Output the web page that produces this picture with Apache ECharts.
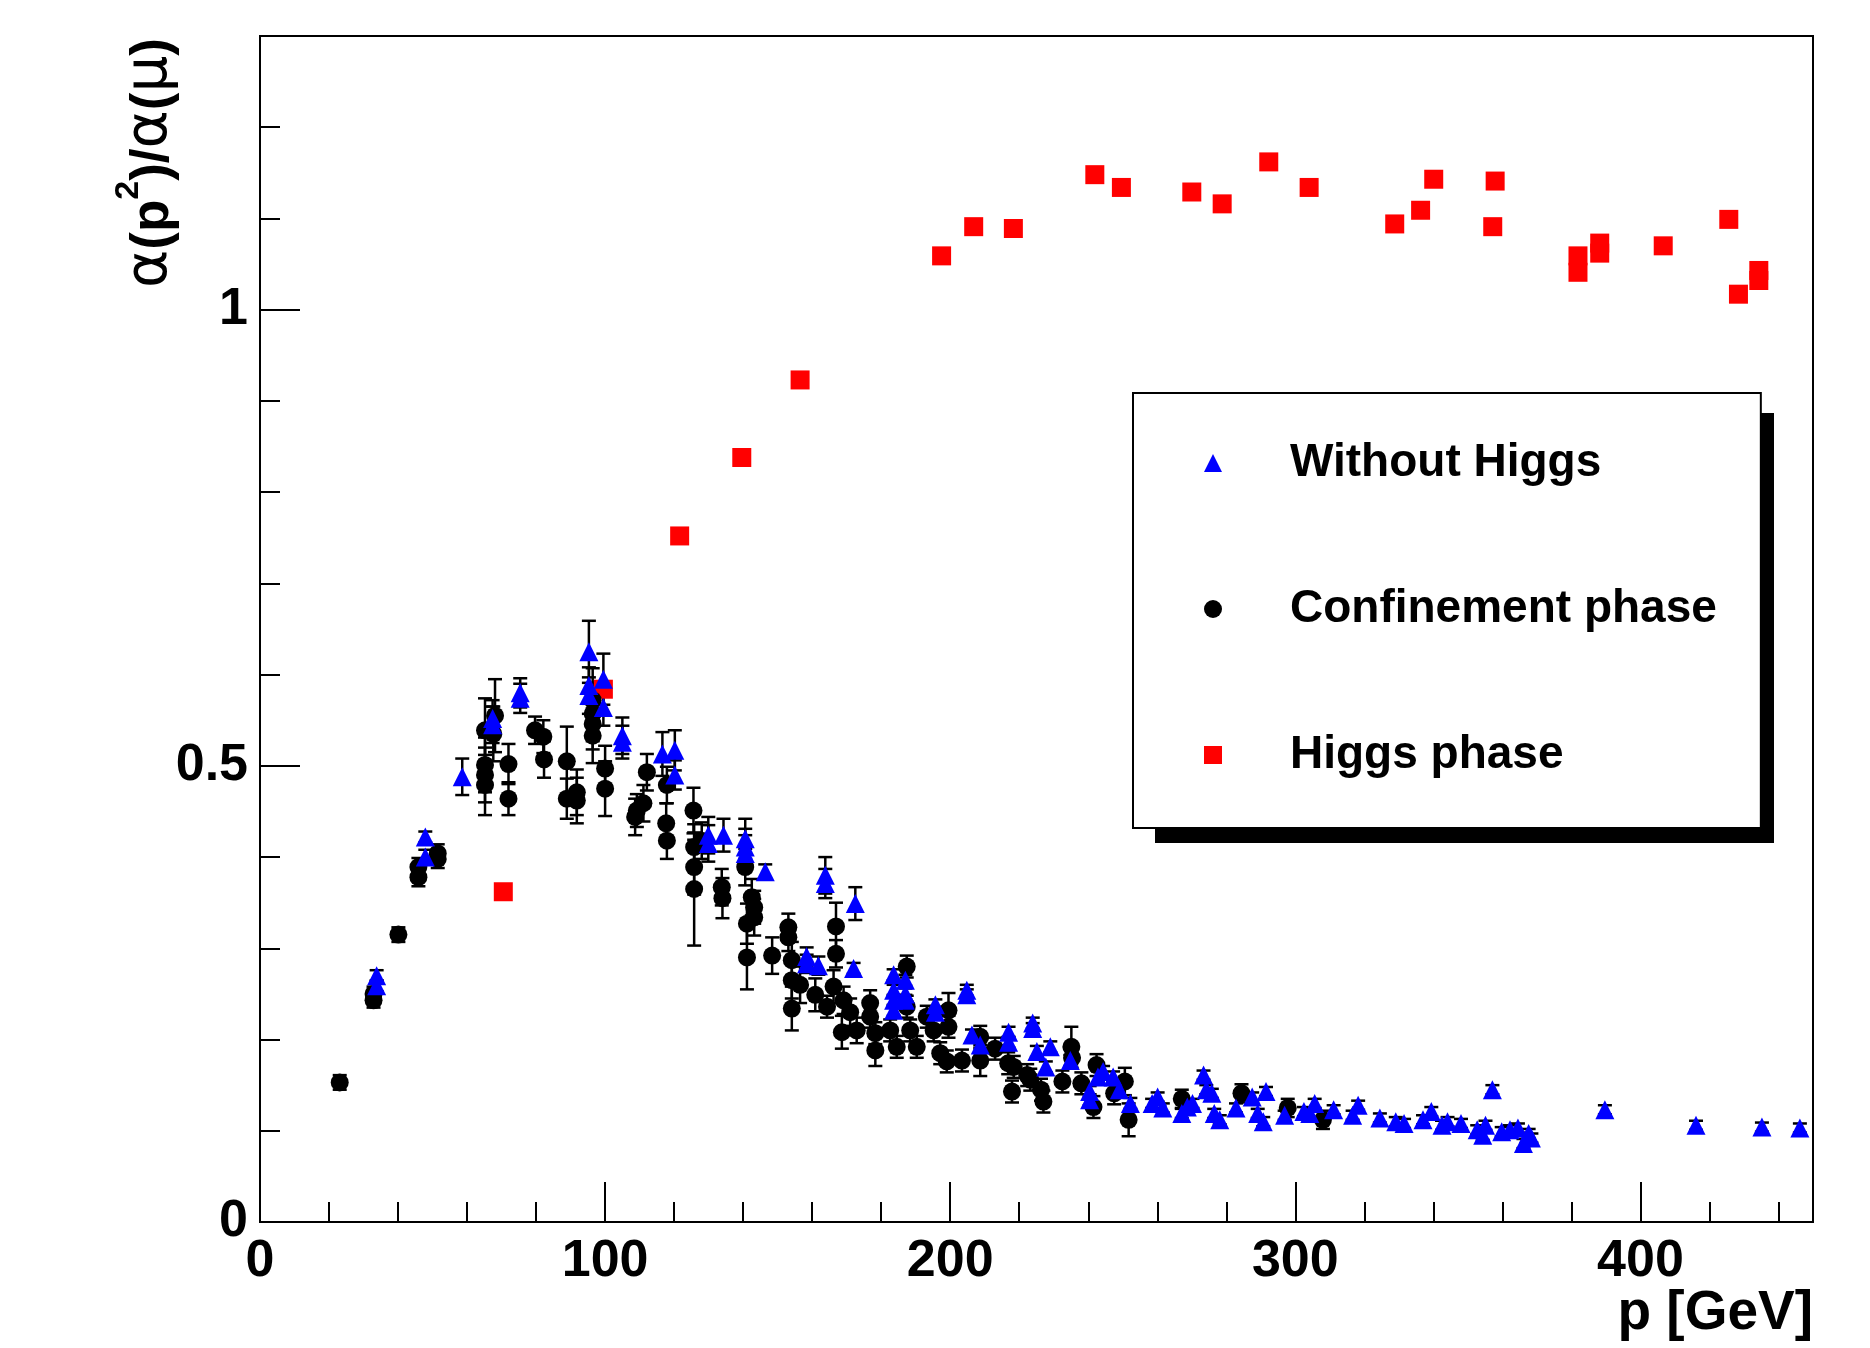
<!DOCTYPE html>
<html>
<head>
<meta charset="utf-8">
<script src="https://cdn.jsdelivr.net/npm/echarts@6/dist/echarts.min.js"></script>
<style>
html,body{margin:0;padding:0;background:#fff;}
#chart{width:1870px;height:1348px;}
</style>
</head>
<body>
<div id="chart"></div>
<script>
// ---- data: [p (GeV), alpha ratio, error] ----
const confinementPhase = [
  [23.1,0.153,0.008],[32.9,0.250,0.008],[32.9,0.243,0.008],[40.1,0.315,0.008],
  [45.9,0.389,0.010],[45.9,0.378,0.010],[51.5,0.404,0.010],[51.5,0.398,0.010],
  [65.2,0.539,0.035],[68.1,0.555,0.040],[67.6,0.535,0.030],[65.2,0.501,0.030],
  [65.2,0.490,0.030],[65.2,0.479,0.033],[72.0,0.502,0.022],[72.0,0.464,0.018],
  [79.7,0.539,0.015],[82.1,0.532,0.018],[82.3,0.507,0.020],[88.9,0.505,0.038],
  [88.9,0.464,0.022],[91.8,0.471,0.025],[91.8,0.462,0.025],[96.4,0.572,0.035],
  [96.4,0.557,0.030],[96.4,0.546,0.028],[96.4,0.533,0.030],[100.0,0.497,0.025],
  [100.0,0.475,0.030],[112.1,0.493,0.020],[111.1,0.459,0.020],[108.7,0.444,0.020],
  [109.2,0.451,0.018],[117.9,0.479,0.020],[117.7,0.437,0.022],[117.9,0.418,0.020],
  [125.6,0.451,0.025],[125.8,0.411,0.025],[125.8,0.389,0.030],[125.8,0.365,0.062],
  [128.0,0.418,0.020],[133.8,0.367,0.020],[134.0,0.355,0.022],[140.6,0.389,0.020],
  [141.1,0.327,0.022],[142.5,0.356,0.020],[143.2,0.345,0.018],[143.2,0.334,0.020],
  [141.1,0.290,0.035],[148.4,0.292,0.020],[153.1,0.323,0.015],[153.1,0.312,0.015],
  [154.1,0.287,0.020],[154.1,0.265,0.020],[154.1,0.234,0.024],[156.5,0.260,0.020],
  [160.9,0.249,0.018],[164.3,0.236,0.012],[166.2,0.258,0.018],[166.9,0.324,0.026],
  [166.9,0.294,0.015],[169.1,0.243,0.015],[171.0,0.230,0.015],[168.6,0.208,0.018],
  [172.9,0.210,0.014],[176.8,0.240,0.014],[176.8,0.225,0.012],[178.3,0.207,0.012],
  [178.3,0.188,0.017],[182.6,0.210,0.012],[184.5,0.192,0.012],[187.4,0.280,0.012],
  [187.4,0.236,0.012],[188.4,0.210,0.012],[190.3,0.192,0.012],[193.2,0.225,0.012],
  [195.2,0.210,0.012],[197.1,0.185,0.012],[199.0,0.176,0.012],[199.5,0.232,0.019],
  [199.5,0.214,0.012],[203.4,0.177,0.012],[208.7,0.203,0.012],[208.7,0.177,0.017],
  [213.0,0.190,0.012],[217.9,0.143,0.012],[218.4,0.170,0.012],[216.8,0.174,0.012],
  [222.3,0.161,0.012],[223.2,0.156,0.012],[226.3,0.145,0.012],[227.0,0.132,0.012],
  [232.5,0.154,0.012],[235.1,0.192,0.022],[235.3,0.180,0.012],[238.0,0.152,0.012],
  [242.4,0.172,0.012],[241.5,0.126,0.012],[247.5,0.141,0.012],[250.6,0.154,0.015],
  [251.7,0.112,0.018],[267.1,0.135,0.010],[284.4,0.141,0.010],[297.8,0.125,0.010],
  [308.0,0.112,0.010]
];

const withoutHiggs = [
  [33.8,0.270,0.006],[33.8,0.259,0.006],[47.9,0.422,0.006],[47.9,0.400,0.008],
  [58.6,0.488,0.020],[67.4,0.552,0.020],[67.4,0.545,0.020],[75.4,0.580,0.016],
  [75.4,0.574,0.016],[95.3,0.625,0.034],[95.3,0.588,0.020],[95.3,0.577,0.020],
  [99.5,0.595,0.028],[99.5,0.564,0.020],[105.0,0.533,0.020],[105.0,0.526,0.018],
  [116.6,0.513,0.024],[120.2,0.517,0.022],[120.2,0.490,0.016],[129.9,0.424,0.020],
  [129.9,0.415,0.020],[134.3,0.424,0.018],[140.6,0.420,0.022],[140.6,0.411,0.020],
  [140.6,0.404,0.020],[146.4,0.384,0.008],[163.8,0.380,0.020],[163.8,0.371,0.016],
  [172.5,0.349,0.018],[158.4,0.291,0.010],[158.4,0.283,0.010],[161.8,0.281,0.010],
  [172.0,0.278,0.006],[183.6,0.271,0.006],[183.6,0.254,0.006],[183.6,0.243,0.006],
  [183.6,0.232,0.006],[187.0,0.265,0.006],[187.0,0.250,0.006],[187.0,0.243,0.006],
  [195.7,0.238,0.006],[195.7,0.230,0.006],[204.8,0.254,0.006],[204.8,0.249,0.006],
  [206.3,0.205,0.006],[208.7,0.194,0.006],[216.9,0.208,0.006],[216.9,0.197,0.006],
  [223.9,0.218,0.006],[223.9,0.212,0.006],[225.1,0.187,0.006],[229.0,0.192,0.006],
  [227.7,0.170,0.006],[234.8,0.177,0.006],[240.4,0.143,0.006],[240.4,0.134,0.006],
  [242.8,0.159,0.006],[244.3,0.165,0.006],[247.2,0.159,0.006],[249.0,0.145,0.006],
  [252.2,0.130,0.006],[258.5,0.130,0.005],[260.1,0.137,0.005],[261.6,0.125,0.005],
  [267.1,0.119,0.005],[268.7,0.126,0.005],[270.2,0.130,0.005],[273.4,0.161,0.005],
  [274.2,0.145,0.005],[275.8,0.141,0.005],[276.5,0.119,0.005],[278.1,0.112,0.005],
  [282.8,0.125,0.005],[287.5,0.137,0.005],[289.1,0.119,0.005],[290.7,0.110,0.005],
  [291.5,0.143,0.005],[296.9,0.117,0.005],[302.5,0.121,0.005],[305.6,0.130,0.005],
  [304.2,0.119,0.005],[311.1,0.123,0.005],[316.6,0.117,0.005],[318.2,0.128,0.005],
  [324.5,0.114,0.005],[329.1,0.110,0.005],[331.5,0.108,0.005],[337.0,0.112,0.005],
  [339.4,0.121,0.005],[342.5,0.106,0.005],[344.1,0.110,0.005],[348.0,0.108,0.005],
  [352.7,0.101,0.005],[354.3,0.095,0.005],[355.1,0.106,0.005],[357.1,0.145,0.005],
  [359.8,0.099,0.005],[362.2,0.101,0.005],[364.5,0.103,0.005],[366.1,0.086,0.005],
  [367.6,0.097,0.005],[368.4,0.092,0.005],[389.7,0.123,0.005],[416.1,0.106,0.005],
  [435.2,0.104,0.005],[446.2,0.103,0.005]
];

const higgsPhase = [
  [70.5,0.362],[99.5,0.584],[121.6,0.752],[139.6,0.838],[156.5,0.923],
  [197.5,1.059],[206.8,1.091],[218.3,1.089],[241.9,1.148],[249.6,1.134],
  [270.0,1.129],[278.8,1.116],[292.3,1.162],[304.0,1.134],[328.8,1.094],
  [336.3,1.109],[340.1,1.143],[357.9,1.141],[357.2,1.091],[381.9,1.059],
  [381.9,1.041],[388.2,1.073],[388.2,1.062],[406.6,1.070],[425.6,1.099],
  [428.4,1.017],[434.3,1.043],[434.3,1.032]
];

const seriesNames = ['Without Higgs', 'Confinement phase', 'Higgs phase'];
const xTickLabels = [0, 100, 200, 300, 400];
const yTickLabels = [0, 0.5, 1];

// ---- chart ----
const FONT = 'Liberation Sans';
const GREEK = 'DejaVu Sans';
const chart = echarts.init(document.getElementById('chart'), null, {renderer: 'canvas'});

function errorBars(points) {
  return points.map(p => [p[0], p[1] - p[2], p[1] + p[2]]);
}
function renderErr(params, api) {
  const x = api.value(0);
  const top = api.coord([x, api.value(2)]);
  const bot = api.coord([x, api.value(1)]);
  const w = 7;
  const st = {stroke: '#000', lineWidth: 2.5};
  return {
    type: 'group',
    children: [
      {type: 'line', shape: {x1: top[0], y1: top[1], x2: bot[0], y2: bot[1]}, style: st},
      {type: 'line', shape: {x1: top[0] - w, y1: top[1], x2: top[0] + w, y2: top[1]}, style: st},
      {type: 'line', shape: {x1: bot[0] - w, y1: bot[1], x2: bot[0] + w, y2: bot[1]}, style: st}
    ]
  };
}

const labelStyle = {fontFamily: FONT, fontWeight: 'bold', fontSize: 52, color: '#000'};

// legend drop shadow geometry (ROOT-style pave shadow)
const LEG_SHADOW = {x: 1155, y: 413, width: 619, height: 430};

const option = {
  animation: false,
  backgroundColor: '#fff',
  grid: {left: 260, top: 36, right: 57, bottom: 126, show: true, borderColor: '#000', borderWidth: 2,
    backgroundColor: 'transparent', containLabel: false, outerBoundsMode: 'none'},
  graphic: [{
    type: 'rect', z: 3, silent: true,
    shape: {x: LEG_SHADOW.x, y: LEG_SHADOW.y, width: LEG_SHADOW.width, height: LEG_SHADOW.height},
    style: {fill: '#000'}
  }],
  legend: {
    data: seriesNames,
    orient: 'vertical',
    left: 1133, top: 393,
    padding: [45, 44, 48, 71],
    itemGap: 96,
    itemWidth: 18, itemHeight: 18,
    backgroundColor: '#fff',
    borderColor: '#000', borderWidth: 2,
    z: 5,
    textStyle: {fontFamily: FONT, fontWeight: 'bold', fontSize: 46, color: '#000', lineHeight: 50, padding: [0, 0, 0, 63]}
  },
  xAxis: [
    {
      type: 'value', min: 0, max: 450, interval: 20, position: 'bottom',
      axisLine: {show: true, lineStyle: {color: '#000', width: 2}},
      axisTick: {show: true, inside: true, length: 20, lineStyle: {color: '#000', width: 2}},
      axisLabel: {show: false}, splitLine: {show: false}
    },
    {
      type: 'value', min: 0, max: 450, interval: 100, position: 'bottom',
      axisLine: {show: false},
      axisTick: {show: true, inside: true, length: 40, lineStyle: {color: '#000', width: 2}},
      axisLabel: Object.assign({margin: 14, showMaxLabel: false,
        formatter: v => (xTickLabels.indexOf(v) >= 0 ? String(v) : '')}, labelStyle),
      splitLine: {show: false},
      name: 'p [GeV]', nameLocation: 'end', nameGap: 0, nameMoveOverlap: false,
      nameTextStyle: {fontFamily: FONT, fontWeight: 'bold', fontSize: 55, color: '#000', align: 'right', verticalAlign: 'top', padding: [64, 0, 0, 0]}
    }
  ],
  yAxis: [
    {
      type: 'value', min: 0, max: 1.3, interval: 0.1, position: 'left',
      axisLine: {show: true, lineStyle: {color: '#000', width: 2}},
      axisTick: {show: true, inside: true, length: 20, lineStyle: {color: '#000', width: 2}},
      axisLabel: {show: false}, splitLine: {show: false}
    },
    {
      type: 'value', min: 0, max: 1.3, interval: 0.5, position: 'left',
      axisLine: {show: false},
      axisTick: {show: true, inside: true, length: 40, lineStyle: {color: '#000', width: 2}},
      axisLabel: Object.assign({margin: 12, showMaxLabel: false,
        formatter: v => (yTickLabels.indexOf(v) >= 0 ? String(v) : '')}, labelStyle),
      splitLine: {show: false},
      name: '{g|α}{b|(p}{s|2}{b|)/}{g|α}{b|(}{g|μ}{b|)}', nameLocation: 'end', nameGap: -2, nameRotate: 90,
      nameMoveOverlap: false,
      nameTextStyle: {
        fontFamily: FONT, fontSize: 53, color: '#000', align: 'right', verticalAlign: 'bottom',
        padding: [0, 0, 80, 0],
        rich: {
          g: {fontFamily: GREEK, fontSize: 58, fontWeight: 'normal', color: '#000', lineHeight: 68, verticalAlign: 'bottom'},
          b: {fontFamily: FONT, fontSize: 53, fontWeight: 'bold', color: '#000', lineHeight: 68, verticalAlign: 'bottom'},
          s: {fontFamily: FONT, fontSize: 34, fontWeight: 'bold', color: '#000', lineHeight: 34, verticalAlign: 'top'}
        }
      }
    }
  ],
  series: [
    {type: 'custom', name: 'errConf', xAxisIndex: 0, yAxisIndex: 0, renderItem: renderErr,
      encode: {x: 0, y: [1, 2]}, data: errorBars(confinementPhase), silent: true},
    {type: 'custom', name: 'errNoHiggs', xAxisIndex: 0, yAxisIndex: 0, renderItem: renderErr,
      encode: {x: 0, y: [1, 2]}, data: errorBars(withoutHiggs), silent: true},
    {type: 'scatter', name: 'Higgs phase', xAxisIndex: 0, yAxisIndex: 0, symbol: 'rect', symbolSize: 19,
      itemStyle: {color: '#ff0000', opacity: 1}, data: higgsPhase},
    {type: 'scatter', name: 'Confinement phase', xAxisIndex: 0, yAxisIndex: 0, symbol: 'circle', symbolSize: 18,
      itemStyle: {color: '#000000', opacity: 1}, data: confinementPhase.map(p => [p[0], p[1]])},
    {type: 'scatter', name: 'Without Higgs', xAxisIndex: 0, yAxisIndex: 0, symbol: 'triangle', symbolSize: 19,
      itemStyle: {color: '#0000ff', opacity: 1}, data: withoutHiggs.map(p => [p[0], p[1]])}
  ]
};
chart.setOption(option);
</script>
</body>
</html>
